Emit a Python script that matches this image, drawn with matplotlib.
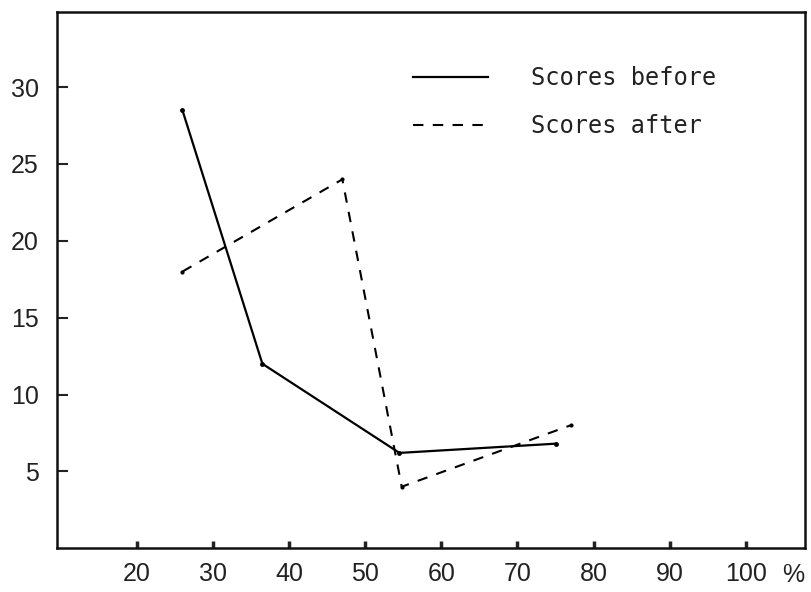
import matplotlib.pyplot as plt

# percent values (x) and scores (y)
x_before = [26, 36.5, 54.5, 75]
scores_before = [28.5, 12.0, 6.2, 6.8]
x_after = [26, 47, 54.8, 77]
scores_after = [18.0, 24.0, 4.0, 8.0]

xticks = [20, 30, 40, 50, 60, 70, 80, 90, 100]
yticks = [5, 10, 15, 20, 25, 30]

fig = plt.figure(figsize=(8.11, 5.92), dpi=100)
ax = fig.add_axes([0.070, 0.074, 0.923, 0.906])

ax.plot(x_before, scores_before, color='black', lw=1.6, label='Scores before')
ax.plot(x_after, scores_after, color='black', lw=1.5, dashes=(5, 4.5),
        label='Scores after')
# small dots at the plotted points
ax.plot(x_before, scores_before, ls='none', color='black', marker='.',
        markersize=5)
ax.plot(x_after, scores_after, ls='none', color='black', marker='.',
        markersize=4)

ax.set_xlim(9.5, 107.8)
ax.set_ylim(0, 34.9)
ax.set_xticks(xticks)
ax.set_yticks(yticks)
ax.set_xticklabels([str(v) for v in xticks])
ax.tick_params(axis='both', direction='in', length=8, width=1.5,
               labelsize=18, colors='#222222')
ax.tick_params(axis='x', length=5, width=2.5, pad=10)
ax.tick_params(axis='y', pad=13)
for lab in ax.get_xticklabels() + ax.get_yticklabels():
    lab.set_family('Liberation Sans')
for s in ax.spines.values():
    s.set_linewidth(1.8)
    s.set_color('#111111')

ax.text(0.984, -0.028, '%', transform=ax.transAxes, ha='center', va='top',
        fontsize=18, family='Liberation Sans', color='#222222')

leg = ax.legend(loc='upper left', bbox_to_anchor=(0.509, 0.888),
                bbox_transform=fig.transFigure, frameon=False,
                borderpad=0, borderaxespad=0,
                handlelength=3.2, handletextpad=1.8, labelspacing=1.0,
                prop={'family': 'DejaVu Sans Mono', 'size': 17})
for t in leg.get_texts():
    t.set_color('#222222')

fig.savefig('out.png', dpi=100)
